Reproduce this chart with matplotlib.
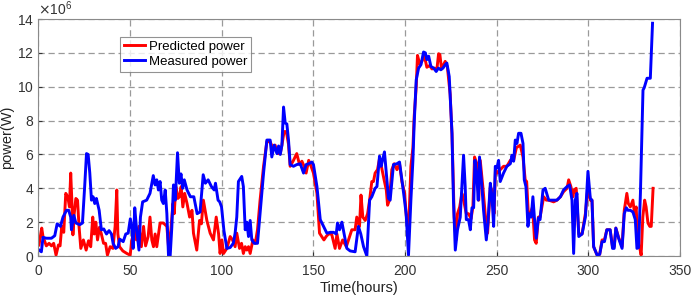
import matplotlib
matplotlib.use("Agg")
import matplotlib.pyplot as plt
import matplotlib.ticker as mticker
import numpy as np

# predicted power (x1e6 W)
pred_hours = [0.5, 2, 2.7, 4.5, 6, 7.3, 8.5, 9.8, 11.1, 12, 12.9, 14, 15.1, 16.2, 17.1, 17.8, 18.4, 19, 19.7,
              20.6, 21.5, 22.3, 23.3, 24.7, 26.2, 27.5, 28.7, 29.8, 30.6, 31.5, 32.4, 33.5, 34.5, 35.7, 36.8,
              37.8, 39.3, 40.8, 42, 42.9, 43.5, 44.4, 46.2, 48.4, 50.2, 51.1, 52, 52.7, 53.6, 55, 56.3, 57.5,
              58.6, 60, 61, 62, 62.9, 63.8, 64.7, 66.5, 68.3, 70.2, 71.1, 72.4, 73.5, 74.2, 75.1, 76.2, 77,
              78, 78.9, 79.9, 81.2, 82.6, 83.9, 84.7, 86.5, 88, 89, 90.1, 92, 93.8, 95.6, 97.1, 98.4, 99.2,
              100.2, 101.1, 102.9, 104.7, 106, 107.4, 108.3, 109.8, 110.9, 111.9, 112.9, 113.8, 114.7, 115.6,
              117.1, 118.4, 119.6, 121, 122.9, 124.7, 126.5, 127.9, 129.2, 130.6, 132, 132.9, 134.1, 135.3,
              136.5, 137.4, 139.2, 141, 142.5, 143.8, 145, 146.1, 147.5, 148.8, 150.1, 152, 153.4, 154.6, 155.8,
              157, 158.3, 160, 161.9, 162.9, 164.3, 166, 168, 169.2, 171, 172.8, 173.7, 175.2, 176, 177, 178.3,
              179.6, 180.7, 181.9, 182.8, 183.7, 185, 186.1, 187.3, 188.6, 189.8, 190.5, 191.5, 192.8, 194.1,
              195.6, 197, 198.3, 199.8, 200.6, 201.9, 203.2, 204.3, 205, 206.1, 206.8, 208, 209.2, 210.5, 211.9,
              213.4, 214.7, 216, 217.4, 218.3, 219, 219.9, 221.9, 223.1, 224.6, 225.6, 226.8, 227.8, 228.6, 229.8,
              231, 231.9, 233.4, 234.6, 236, 237, 237.9, 239.2, 240.2, 241, 242.4, 243.7, 245, 246.5, 247.9,
              248.5, 249.3, 250.4, 251.9, 253.7, 255.5, 257.4, 259.2, 260.7, 262.8, 264.3, 265.5, 266.3, 267.2,
              268.3, 269.5, 270.6, 271.5, 272.7, 273.6, 275.6, 277, 278.3, 281, 282.8, 284.7, 286.4, 288.3, 289.2,
              290.4, 291.5, 292.2, 293.3, 294.7, 296.5, 298.3, 299.7, 301, 301.9, 302.8, 304.7, 306.1, 307.4,
              308.7, 310, 311.8, 313.1, 314, 314.9, 316.4, 318.3, 319.5, 320.9, 321.7, 322.8, 324.2, 325.1, 326,
              326.8, 327.8, 328.7, 329.6, 330.6, 331.4, 332.4, 333.4, 334.2, 335.2]
pred_power = [0.65, 1.65, 1.15, 0.6, 0.75, 0.6, 0.75, 0.05, 0.65, 0.6, 1.75, 1.4, 3.7, 3.5, 2.9, 4.9, 3.3, 1.25,
               2.5, 3.4, 3.3, 1.8, 0.45, 0.95, 0.35, 0.9, 0.55, 2.3, 1.3, 2.0, 0.95, 1.7, 1.3, 0.75, 0.75, 0.05,
               0.55, 0.45, 1.75, 3.9, 1.3, 0.55, 0.3, 0.15, 0.05, 0.95, 1.3, 1.75, 0.95, 1.75, 0.55, 1.75, 0.6,
               1.15, 2.3, 0.95, 0.55, 1.3, 0.55, 1.95, 1.95, 1.75, 0.55, 1.55, 3.1, 2.5, 4.1, 3.4, 3.5, 4.1, 2.9,
               3.7, 3.1, 2.3, 2.7, 1.35, 0.35, 2.1, 1.9, 3.3, 2.1, 1.35, 0.95, 2.3, 1.3, 0.15, 0.95, 0.15, 0.45,
               1.15, 0.95, 0.55, 1.35, 0.45, 0.75, 0.15, 0.55, 0.35, 0.55, 0.15, 0.95, 0.75, 1.55, 3.3, 5.3, 6.75,
               6.75, 6.4, 6.55, 6.05, 6.05, 6.55, 7.35, 7.35, 6.6, 5.3, 5.65, 6.05, 5.4, 5.6, 5.3, 4.9, 5.65, 5.3,
               4.9, 3.7, 1.35, 1.15, 0.95, 1.15, 1.3, 1.3, 0.45, 1.3, 0.45, 0.95, 0.55, 0.95, 1.55, 1.55,
               2.3, 1.75, 3.6, 2.3, 2.1, 2.5, 3.3, 4.4, 4.4, 4.9, 5.1, 5.75, 5.2, 4.5, 3.9, 3.0, 3.3, 5.1, 5.45,
               5.1, 5.45, 4.4, 3.7, 2.5, 1.35, 5.3, 6.4, 8.25, 10.0, 11.85, 11.35, 11.5, 11.85, 11.15, 11.25,
               11.05, 11.1, 11.05, 11.95, 11.9, 11.05, 11.5, 11.15, 9.55, 7.2, 2.3, 0.95, 2.5, 2.9, 3.7, 3.3, 2.5,
               2.5, 2.2, 2.9, 5.85, 5.45, 3.3, 5.65, 4.1, 2.5, 1.35, 4.1, 3.7, 2.5, 5.1, 4.9, 5.1, 5.3, 5.3, 5.65,
               5.65, 6.4, 6.55, 5.85, 4.5, 4.4, 2.5, 2.5, 2.9, 0.95, 0.75, 2.3, 2.3, 3.5, 3.3, 3.3, 3.2, 3.3, 3.5,
               3.8, 4.0, 4.5, 4.1, 3.5, 3.9, 4.0, 1.3, 1.3, 2.5, 4.1, 3.3, 3.3, 0.55, 0.05, 0.1, 0.95, 0.95, 1.55,
               1.55, 0.55, 0.55, 1.65, 1.1, 0.55, 2.7, 3.7, 3.1, 2.9, 3.3, 2.5, 2.9, 0.75, 0.55, 0.05, 2.3, 3.3,
               2.9, 1.95, 1.75, 1.75, 4.0]

# measured power (x1e6 W)
meas_hours = [0, 1.8, 2.7, 4.5, 7.3, 9.1, 10.4, 12.2, 13.6, 15.5, 16.7, 17.8, 18.2, 19.5, 20.6, 22.7, 24.2, 25.4,
              26.4, 27.3, 28.2, 29.1, 30, 30.9, 31.8, 33.3, 34.5, 35.8, 37.3, 38.7, 40, 40.9, 42.3, 43.6, 44.5,
              46.4, 47.8, 49.1, 50.3, 51.3, 51.8, 52.7, 53.6, 55, 55.8, 57, 59.2, 61, 62.8, 63.8, 64.7, 65.6, 66.5,
              67.4, 68.3, 69.3, 70.2, 71.1, 72, 72.9, 73.8, 74.8, 76, 77, 77.9, 78.8, 79.7, 81.2, 83, 84.9, 86.7,
              88.3, 90, 91.2, 92.7, 94.5, 96, 96.7, 98.1, 99, 100, 101.3, 102.9, 104.7, 106.4, 107.4, 108.3, 109.2,
              111, 111.9, 112.9, 113.8, 114.7, 115.6, 116.5, 117.8, 119.6, 121, 122.9, 124.7, 126.5, 127.4, 128.7,
              130.2, 131.1, 132, 132.9, 133.8, 134.7, 135.6, 136.5, 137.4, 139.2, 141, 142.9, 144.7, 146.1, 147.5,
              149.2, 150.1, 152, 153.8, 155.6, 157.4, 159.3, 161.1, 162.5, 163.2, 164.3, 165.6, 166.8, 168.3,
              170.1, 172.8, 174.6, 175.9, 177.4, 179.2, 180.7, 181.9, 183.7, 184.7, 186.1, 187, 187.7, 188.8,
              189.8, 191, 191.9, 193.7, 195.6, 197, 198.3, 199.6, 200.6, 201.9, 203.2, 204.3, 205, 206.1, 207.4,
              208.7, 210.1, 211.1, 211.9, 212.9, 214.1, 215.6, 217, 218.2, 219.5, 220.7, 221.9, 222.8, 224.1,
              225.6, 226.4, 227.4, 228.6, 230.1, 231, 231.9, 232.8, 233.4, 234.6, 235.6, 236.5, 237.4, 238.1,
              239.2, 239.9, 240.6, 241.9, 242.8, 244.3, 245.2, 246.5, 247.4, 248.3, 249.2, 250.1, 251, 251.9,
              253.7, 255.5, 257.4, 258.3, 259.2, 260.1, 261, 261.9, 263.2, 264.3, 265, 265.9, 267, 267.8, 268.8,
              269.7, 270.6, 271.5, 272.7, 273.6, 275.2, 276.4, 278.3, 280.1, 282.8, 284.7, 286.4, 288.3, 289.7,
              291, 291.9, 292.8, 293.7, 294.7, 296.5, 298.3, 299.7, 301, 301.9, 302.8, 304.7, 306.1, 307.4, 308.7,
              310, 311.8, 313.1, 314, 314.9, 316.4, 318.3, 319.5, 320.6, 321.5, 322.8, 324.2, 325.5, 326.4, 327.3,
              328.3, 329.7, 330.4, 331.9, 333.7, 334.9]
meas_power = [0.4, 0.25, 1.1, 1.05, 1.05, 1.2, 1.9, 1.75, 2.3, 2.7, 2.7, 2.3, 1.55, 2.4, 1.95, 1.85, 1.95, 4.1,
              6.05, 6.0, 4.9, 3.3, 3.5, 3.1, 3.4, 2.7, 1.55, 1.6, 1.3, 1.5, 1.3, 0.75, 0.45, 0.55, 1.0, 0.85, 1.3,
              1.35, 2.2, 1.5, 0.45, 2.85, 1.7, 0.35, 2.3, 3.2, 3.3, 3.7, 4.75, 4.2, 4.5, 3.9, 4.4, 3.3, 3.1, 3.9,
              2.5, 0.0, 0.0, 1.7, 4.2, 3.3, 6.1, 4.3, 4.85, 4.0, 4.5, 3.9, 3.5, 3.5, 2.5, 2.6, 4.8, 4.3, 4.5, 4.1,
              3.9, 4.3, 3.3, 3.2, 2.9, 1.5, 0.45, 0.5, 0.75, 1.35, 2.3, 4.4, 4.7, 4.1, 1.55, 2.0, 1.15, 2.1, 0.95,
              0.75, 0.75, 2.5, 4.9, 6.85, 6.85, 5.85, 6.55, 6.05, 6.5, 6.0, 6.55, 8.8, 7.85, 7.8, 6.85, 5.4, 5.3,
              5.4, 5.45, 4.9, 5.4, 5.45, 5.55, 5.4, 4.1, 2.15, 1.75, 1.35, 1.4, 1.4, 1.3, 1.95, 1.55, 2.0, 1.3,
              0.45, 0.3, 0.25, 1.75, 1.3, 0.55, 0.0, 3.3, 3.5, 4.0, 4.1, 5.9, 5.3, 5.65, 6.15, 4.9, 3.4, 3.3, 5.4,
              5.45, 5.55, 4.5, 3.4, 2.5, 0.05, 3.3, 5.65, 7.85, 10.4, 11.1, 11.3, 12.05, 12.0, 11.6, 11.8, 11.2,
              11.1, 10.9, 11.1, 11.0, 11.1, 11.3, 11.4, 10.6, 7.25, 3.3, 0.35, 1.55, 2.3, 4.1, 5.95, 4.1, 2.15,
              2.15, 1.55, 2.85, 2.85, 5.65, 4.6, 3.3, 5.85, 4.1, 2.7, 0.95, 1.95, 4.3, 3.5, 1.75, 5.3, 5.2, 5.65,
              4.4, 4.9, 5.3, 5.45, 5.95, 5.6, 6.85, 6.65, 7.25, 7.25, 6.65, 4.5, 4.1, 1.75, 2.5, 2.3, 3.5, 2.15,
              1.05, 2.25, 2.15, 3.9, 4.0, 3.3, 3.3, 3.3, 3.5, 3.9, 4.1, 4.2, 3.3, 0.15, 3.3, 3.7, 1.15, 1.3, 2.3,
              5.0, 3.4, 3.3, 0.55, 0.05, 0.1, 0.85, 0.85, 1.55, 1.55, 0.45, 0.45, 1.65, 1.05, 0.45, 2.5, 2.85, 2.7,
              2.7, 2.6, 2.15, 0.45, 0.5, 3.7, 9.8, 9.95, 10.5, 10.5, 13.75]

x_ticks = [0, 50, 100, 150, 200, 250, 300, 350]
y_ticks = [0, 2, 4, 6, 8, 10, 12, 14]

plt.rcParams["font.family"] = ["Liberation Sans", "DejaVu Sans"]

fig = plt.figure(figsize=(6.92, 2.97), dpi=100)
ax = fig.add_axes([0.055, 0.138, 0.928, 0.798])

ax.plot(pred_hours, np.array(pred_power) * 1e6, color="#ff0000", lw=2.1, label="Predicted power")
ax.plot(meas_hours, np.array(meas_power) * 1e6, color="#0000ff", lw=2.1, label="Measured power")

ax.set_xlim(0, 350)
ax.set_ylim(0, 14e6)
ax.set_xticks(x_ticks)
ax.set_yticks([v * 1e6 for v in y_ticks])
fmt = mticker.ScalarFormatter(useMathText=True)
fmt.set_powerlimits((6, 6))
ax.yaxis.set_major_formatter(fmt)
ax.yaxis.get_offset_text().set_fontsize(10)
ax.yaxis.get_offset_text().set_color("#333333")

ax.grid(True, linestyle=(0, (5, 3)), color="#9a9a9a", lw=0.9)
for s in ax.spines.values():
    s.set_color("#8a8a8a")
    s.set_linewidth(0.8)
ax.tick_params(labelsize=10, colors="#333333", direction="in", length=3)
ax.tick_params(axis="y", pad=3)
ax.tick_params(axis="x", pad=6)

ax.set_xlabel("Time(hours)", fontsize=10.5, color="#222222", labelpad=2)
ax.set_ylabel("power(W)", fontsize=10.5, color="#222222")
ax.yaxis.set_label_coords(-0.037, 0.5)

leg = ax.legend(loc="upper left", bbox_to_anchor=(0.127, 0.925), fontsize=9.5, frameon=True,
                fancybox=False, edgecolor="#777777", handlelength=1.6, handletextpad=0.3,
                borderpad=0.3, labelspacing=0.2, borderaxespad=0)
leg.get_frame().set_linewidth(0.8)

fig.savefig("out.png", dpi=100)
